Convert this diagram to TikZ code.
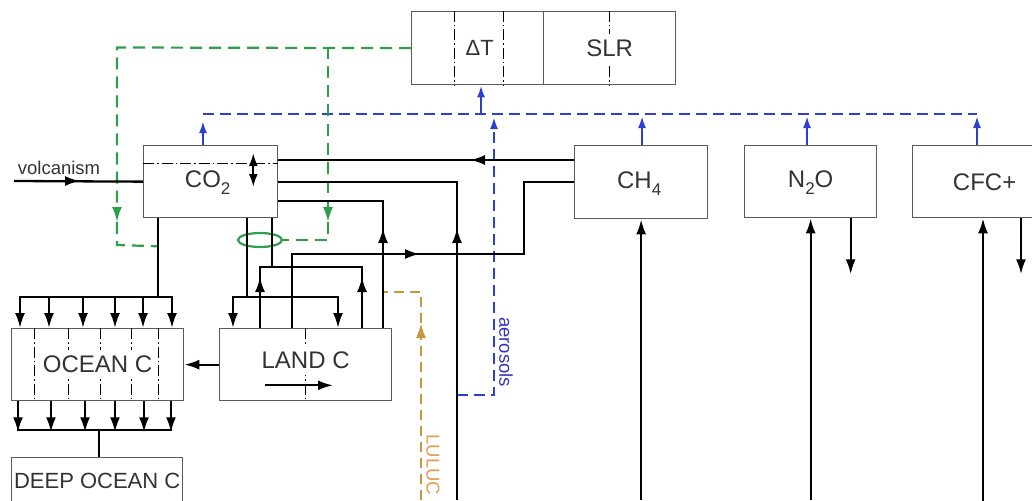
\documentclass[tikz,border=0pt]{standalone}
\usepackage{fontspec}
\setmainfont{Liberation Sans}
\usepackage{tikz}
\usetikzlibrary{arrows.meta,calc,shapes.geometric}
\definecolor{boxGray}{HTML}{5A5A5A}
\definecolor{fbGreen}{HTML}{2E9E4A}
\definecolor{forcBlue}{HTML}{2C3FD2}
\definecolor{lulucGold}{HTML}{C8963E}
\definecolor{lulucText}{HTML}{E39A55}
\definecolor{aeroText}{HTML}{3434C4}
\newcommand{\gassub}[1]{\raisebox{-7pt}{\fontsize{17pt}{17pt}\selectfont #1}}
\tikzset{
  >={Latex[length=15pt,width=10pt]},
  box/.style={rectangle,draw=boxGray,line width=1.3pt,inner sep=0pt,anchor=north west},
  flow/.style={draw=black,line width=2.3pt},
  greenflow/.style={draw=fbGreen,line width=2.2pt,dash pattern=on 12pt off 7pt},
  blueflow/.style={draw=forcBlue,line width=2.2pt,dash pattern=on 11pt off 6pt},
  bluearrow/.style={-{Latex[length=12pt,width=8pt]},draw=forcBlue,line width=2.2pt},
  lulucflow/.style={draw=lulucGold,line width=2.2pt,dash pattern=on 10pt off 6pt},
  divider/.style={draw=black,line width=0.9pt,dash pattern=on 11pt off 3pt on 1.5pt off 3pt},
  boxlabel/.style={font=\fontsize{24pt}{28pt}\selectfont,text=black!80,fill=white,inner xsep=1pt,inner ysep=6pt},
  sidelabel/.style={font=\fontsize{18.5pt}{22pt}\selectfont,rotate=-90,inner sep=0pt},
}

\begin{document}
\begin{tikzpicture}[x=1pt,y=-1pt]
  \clip (0,0) rectangle (1032,500);
  \coordinate (bot) at (0,500);

  % boxes
  \node[box, minimum width=132pt, minimum height=73pt] (dT) at (411,11) {};
  \node[box, minimum width=132pt, minimum height=73pt] (slr) at (543,11) {};
  \node[box, minimum width=134pt, minimum height=72pt] (co2) at (143,145) {};
  \node[box, minimum width=133pt, minimum height=73pt] (ch4) at (574,145) {};
  \node[box, minimum width=132pt, minimum height=72pt] (n2o) at (744,145) {};
  \node[box, minimum width=144pt, minimum height=72pt] (cfc) at (912,145) {};
  \node[box, minimum width=172pt, minimum height=72pt] (ocean) at (11,328) {};
  \node[box, minimum width=172pt, minimum height=72pt] (land) at (219,328) {};
  \node[box, minimum width=171pt, minimum height=70pt] (deep) at (11,457) {};

  % dash-dot dividers
  \draw[divider] ($(dT.north west)+(43,0)$) -- ($(dT.south west)+(43,0)$);
  \draw[divider] ($(dT.north west)+(92,0)$) -- ($(dT.south west)+(92,0)$);
  \draw[divider] (slr.north) -- (slr.south);
  \draw[divider] ($(co2.north west)+(0,18)$) -- ($(co2.north east)+(0,18)$);
  \foreach \dx in {23,57,89,120,147}
    \draw[divider] ($(ocean.north west)+(\dx,0)$) -- ($(ocean.south west)+(\dx,0)$);
  \draw[divider] (land.north) -- (land.south);

  % labels
  \node[boxlabel, font=\fontsize{22pt}{26pt}\selectfont] (dTlabel) at ($(dT.center)+(2,0)$) {ΔT};
  \node[boxlabel] (slrlabel) at (slr.center) {SLR};
  \node[boxlabel] (co2label) at ($(co2.center)+(-3,1)$) {CO\gassub{2}};
  \node[boxlabel] (ch4label) at ($(ch4.center)+(-2,1)$) {CH\gassub{4}};
  \node[boxlabel] (n2olabel) at ($(n2o.center)+(0,1)$) {N\gassub{2}O};
  \node[boxlabel] (cfclabel) at ($(cfc.center)+(0,1)$) {CFC+};
  \node[boxlabel] (oceanlabel) at (ocean.center) {OCEAN C};
  \node[boxlabel] (landlabel) at ($(land.center)+(0,-4)$) {LAND C};
  \node[boxlabel, font=\fontsize{22pt}{26pt}\selectfont] (deeplabel) at ($(deep.north)+(0,24)$) {DEEP OCEAN C};
  \node[font=\fontsize{18.5pt}{22pt}\selectfont, text=black!80] (volclabel) at (59,168) {volcanism};
  \node[sidelabel, text=aeroText] (aerolabel) at (506,352) {aerosols};
  \node[sidelabel, text=lulucText] (luluclabel) at (433,465) {LULUC};

  % radiative forcing bus
  \draw[blueflow] ($(co2.north west)+(60,-31)$) -- ($(cfc.north west)+(65,-31)$);
  \draw[bluearrow] ($(co2.north west)+(60,0)$) -- ++(0,-24);
  \draw[bluearrow] ($(ch4.north west)+(68,0)$) -- ++(0,-29);
  \draw[bluearrow] ($(n2o.north west)+(63,0)$) -- ++(0,-29);
  \draw[bluearrow] ($(cfc.north west)+(65,0)$) -- ++(0,-29);
  \draw[bluearrow] ($(dT.south west)+(70,30)$) -- ($(dT.south west)+(70,0)$);
  \draw[blueflow,-{Latex[length=12pt,width=8pt]}] (457,395) -- (494,395) -- (494,117);

  % temperature feedback
  \node[ellipse, draw=fbGreen, line width=2.2pt, minimum width=44pt, minimum height=14pt, inner sep=0pt] (ring) at (260,240) {};
  \draw[greenflow,->] (dT.west) -- (117,47.5) -- (117,222);
  \draw[greenflow] (117,222) -- (117,245) -- ($(co2.south west)+(15,28)$);
  \draw[greenflow,->] (328,47.5) -- (328,222);
  \draw[greenflow] (328,222) -- (328,240) -- (ring.east);

  % land use
  \draw[lulucflow,->] (421,500) -- (421,323);
  \draw[lulucflow] (421,323) -- (421,292) -- (383,292);

  % volcanism
  \draw[flow] (14,181) -- (co2.west);
  \draw[flow,->] (14,181) -- (80,181);
  \draw[flow,<->,>={Latex[length=13pt,width=9pt]}] ($(co2.north east)+(-25,8)$) -- ($(co2.north east)+(-25,42)$);

  % CO2 exchanges to the right
  \draw[flow] ($(ch4.north west)+(0,15)$) -- ($(co2.north east)+(0,15)$);
  \draw[flow,->] ($(ch4.north west)+(0,15)$) -- (470,160);
  \draw[flow] (457,500) -- (457,182) -- ($(co2.north east)+(0,37)$);
  \draw[flow,->] (457,500) -- (457,228);
  \draw[flow] ($(land.north west)+(164,0)$) -- (383,201) -- ($(co2.north east)+(0,56)$);
  \draw[flow,->] ($(land.north west)+(164,0)$) -- (383,228);
  \draw[flow] ($(land.north west)+(73,0)$) -- (292,254) -- (524,254) -- (524,182) -- ($(ch4.north west)+(0,37)$);
  \draw[flow,->] (292,254) -- (420,254);

  % CO2 to ocean
  \draw[flow] ($(co2.south west)+(15,0)$) -- (158,297);
  \draw[flow] (19,297) -- (173,297);
  \foreach \dx in {9,38,72,104,132,161}
    \draw[flow,->] ($(ocean.north west)+(\dx,-31)$) -- ($(ocean.north west)+(\dx,0)$);
  \foreach \dx in {7,40,74,104,133,160}
    \draw[flow,->] ($(ocean.south west)+(\dx,0)$) -- ($(ocean.south west)+(\dx,31)$);
  \draw[flow] (17,430) -- (172,430);
  \draw[flow] ($(deep.north)+(2,-27)$) -- ($(deep.north)+(2,0)$);

  % CO2 and land
  \draw[flow,->] (land.west) -- (ocean.east);
  \draw[flow] ($(co2.south west)+(104,0)$) -- (247,297);
  \draw[flow] (232,297) -- (339,297);
  \draw[flow,->] (233,297) -- ($(land.north west)+(14,0)$);
  \draw[flow,->] (338,297) -- ($(land.north west)+(119,0)$);
  \draw[flow] ($(co2.south west)+(129,0)$) -- (272,267);
  \draw[flow] (259,267) -- (363,267);
  \draw[flow] ($(land.north west)+(41,0)$) -- (260,267);
  \draw[flow,->] ($(land.north west)+(41,0)$) -- (260,277);
  \draw[flow] ($(land.north west)+(143,0)$) -- (362,267);
  \draw[flow,->] ($(land.north west)+(143,0)$) -- (362,277);
  \draw[flow,->] ($(land.south west)+(46,-16)$) -- ($(land.south west)+(114,-16)$);

  % other gases
  \draw[flow,->] (ch4.south |- bot) -- (ch4.south);
  \draw[flow,->] (n2o.south |- bot) -- (n2o.south);
  \draw[flow,->] ($(n2o.south)+(40,0)$) -- ++(0,56);
  \draw[flow,->] ($(cfc.south west)+(71,283)$) -- ($(cfc.south west)+(71,0)$);
  \draw[flow,->] ($(cfc.south west)+(109,0)$) -- ++(0,56);
\end{tikzpicture}
\end{document}
